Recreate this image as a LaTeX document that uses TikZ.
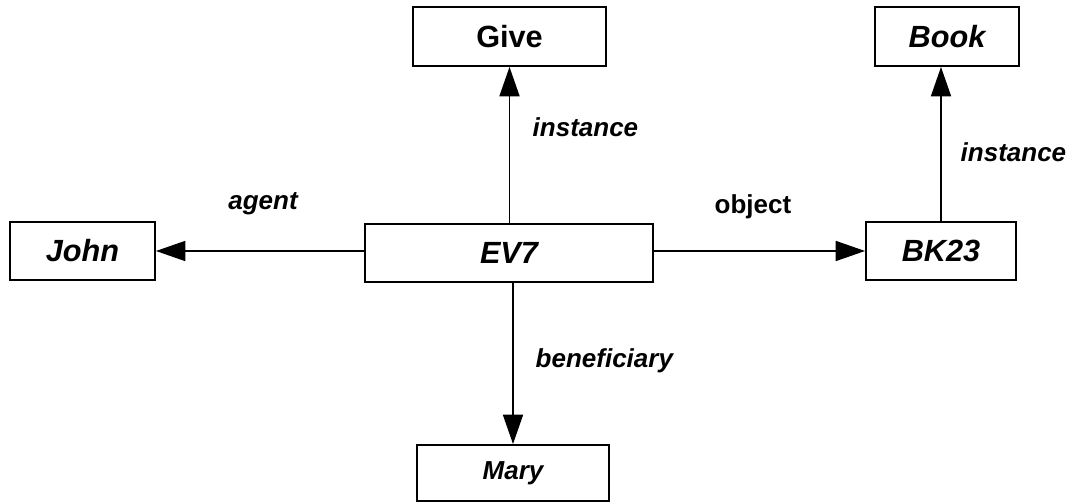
\documentclass[tikz,border=0pt]{standalone}
\usepackage{fontspec}
\setmainfont{Liberation Sans}
\usetikzlibrary{arrows.meta}
\begin{document}
\begin{tikzpicture}[x=0.75pt,y=-0.75pt,
  box/.style={draw, line width=1.4pt, inner sep=0pt, font=\fontsize{23}{26}\selectfont\bfseries\itshape},
  rel/.style={font=\fontsize{19.5}{22}\selectfont\bfseries\itshape},
  link/.style={line width=1.1pt, -{Triangle[length=22pt,width=15pt]}}]
\useasboundingbox (0,0) rectangle (1072,502);
% concept boxes
\node[box, minimum width=193*0.75pt, minimum height=59*0.75pt, font=\fontsize{23}{26}\selectfont\bfseries] (give) at (509.5,36.5) {Give};
\node[box, minimum width=144*0.75pt, minimum height=59*0.75pt] (book) at (947,36.5) {Book};
\node[box, minimum width=145*0.75pt, minimum height=58*0.75pt] (john) at (82.5,251) {John};
\node[box, minimum width=288*0.75pt, minimum height=58*0.75pt] (ev7) at (509,253) {EV7};
\node[box, minimum width=150*0.75pt, minimum height=58*0.75pt] (bk23) at (941,251) {BK23};
\node[box, minimum width=192*0.75pt, minimum height=56*0.75pt, font=\fontsize{19.5}{22}\selectfont\bfseries\itshape] (mary) at (513,473) {Mary};
% relations
\draw[link] (ev7.west |- john.east) -- (john.east);
\draw[link] (ev7.east |- bk23.west) -- (bk23.west);
\draw[link] (ev7.north -| give.south) -- (give.south);
\draw[link] (bk23.north) -- (bk23.north |- book.south);
\draw[link] (ev7.south -| mary.north) -- (mary.north);
% relation labels
\node[rel] (lagent) at (263,204) {agent};
\node[rel, font=\fontsize{19.5}{22}\selectfont\bfseries] (lobject) at (753,207) {object};
\node[rel, anchor=west] (linst1) at (528,127) {instance};
\node[rel, anchor=west] (linst2) at (956,152) {instance};
\node[rel, anchor=west] (lbenef) at (531,361) {beneficiary};
\end{tikzpicture}
\end{document}
